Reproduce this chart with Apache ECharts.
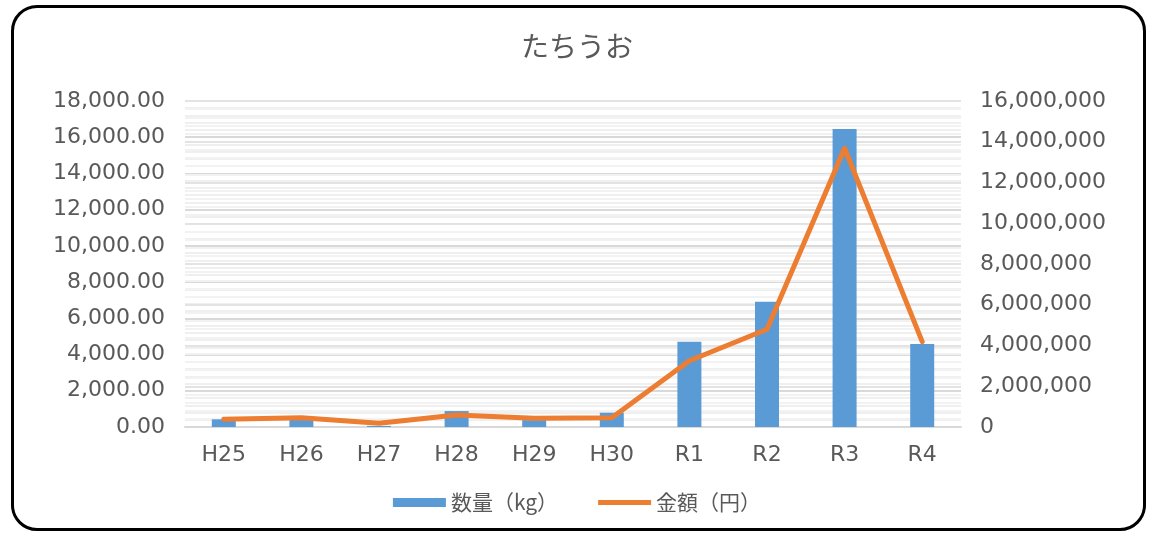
<!DOCTYPE html>
<html><head><meta charset="utf-8">
<script src="https://cdn.jsdelivr.net/npm/echarts@6/dist/echarts.min.js"></script>
<style>
html,body{margin:0;padding:0;background:#fff;}
#frame{position:absolute;left:11px;top:5px;width:1135px;height:526px;border:3px solid #000;border-radius:26px;box-sizing:border-box;}
#c{position:absolute;left:0;top:0;width:1154px;height:538px;}
</style></head>
<body>
<div id="frame"></div>
<div id="c"></div>
<script>
const categories = ['H25','H26','H27','H28','H29','H30','R1','R2','R3','R4'];
const quantityKg = [425, 400, 60, 880, 380, 790, 4710, 6920, 16455, 4580];
const amountYen = [378000, 456000, 180000, 590000, 427000, 456000, 3250000, 4800000, 13680000, 4190000];
const titleText = 'たちうお';
const seriesNames = ['数量（kg）', '金額（円）'];

const font = '"DejaVu Sans","Noto Sans CJK JP",sans-serif';
const cjk = '"Noto Sans CJK JP","DejaVu Sans",sans-serif';
const chart = echarts.init(document.getElementById('c'));
chart.setOption({
  animation:false,
  title:{text:titleText,left:'center',top:27,textStyle:{fontFamily:cjk,fontSize:28,fontWeight:'normal',color:'#595959'}},
  legend:{bottom:20,left:'center',itemGap:40,itemWidth:53,itemHeight:9,
    textStyle:{fontFamily:cjk,fontSize:21,color:'#595959'},
    data:[{name:seriesNames[0],icon:'rect'},{name:seriesNames[1],icon:'path://M0,0 L53,0 L53,5 L0,5 Z'}]},
  grid:{left:185,right:193,top:101,bottom:111},
  xAxis:{type:'category',data:categories,
    axisLine:{lineStyle:{color:'#d9d9d9',width:2}},axisTick:{show:false},
    axisLabel:{fontFamily:font,fontSize:22,color:'#595959',margin:17}},
  yAxis:[
    {type:'value',min:0,max:18000,interval:2000,
     axisLabel:{fontFamily:font,fontSize:22,color:'#595959',margin:20,
       formatter:v=>v.toLocaleString('en-US',{minimumFractionDigits:2,maximumFractionDigits:2})},
     splitLine:{lineStyle:{color:'#d9d9d9',width:2}},
     minorTick:{show:false,splitNumber:5},
     minorSplitLine:{show:true,lineStyle:{color:'#efefef',width:2}}},
    {type:'value',min:0,max:16000000,interval:2000000,
     axisLabel:{fontFamily:font,fontSize:22,color:'#595959',margin:19,
       formatter:v=>v.toLocaleString('en-US')},
     splitLine:{show:true,lineStyle:{color:'#e3e3e3',width:2}},
     minorTick:{show:false,splitNumber:5},
     minorSplitLine:{show:true,lineStyle:{color:'#f2f2f2',width:2}}}
  ],
  series:[
    {name:seriesNames[0],type:'bar',data:quantityKg,yAxisIndex:0,barWidth:24,
     itemStyle:{color:'#5b9bd5'}},
    {name:seriesNames[1],type:'line',data:amountYen,yAxisIndex:1,symbol:'none',
     lineStyle:{color:'#ed7d31',width:5,cap:'round',join:'round'},itemStyle:{color:'#ed7d31'}}
  ]
});
</script>
</body></html>
